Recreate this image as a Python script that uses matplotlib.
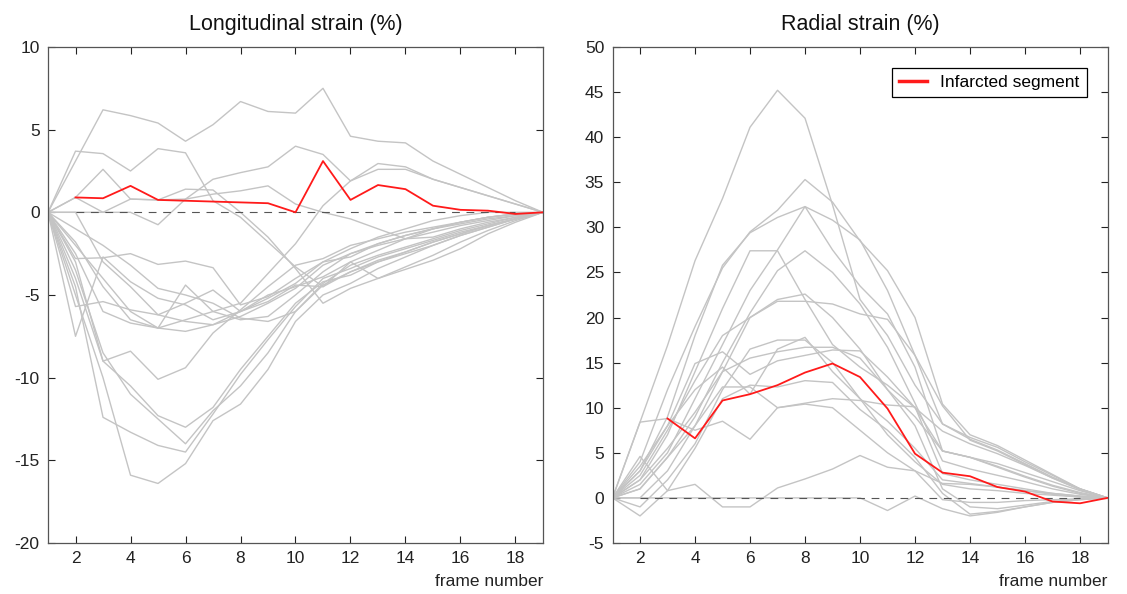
import numpy as np
from matplotlib import pyplot as plt

plt.rcParams['font.family'] = ['Liberation Sans', 'DejaVu Sans']
plt.rcParams['axes.unicode_minus'] = False

frames = np.arange(1, 20)

# longitudinal strain (%), one row per segment
long_gray = [
    [0, 3.1, 6.2, 5.85, 5.4, 4.3, 5.3, 6.7, 6.1, 6.0, 7.5, 4.6, 4.3, 4.2, 3.1, 2.3, 1.5, 0.7, 0],
    [0, 3.7, 3.55, 2.5, 3.85, 3.6, 0.7, -0.3, -1.8, -3.3, -4.5, -3.6, -3.0, -2.4, -1.8, -1.3, -0.8, -0.4, 0],
    [0, 0.9, 2.6, 0.8, 0.75, 1.4, 1.35, 0.0, -1.5, -3.4, -5.5, -4.6, -4.0, -3.3, -2.6, -1.8, -1.1, -0.5, 0],
    [0, 0.9, 0.0, 0.0, -0.75, 0.8, 2.0, 2.4, 2.75, 4.0, 3.5, 1.9, 2.95, 2.75, 2.0, 1.5, 1.0, 0.5, 0],
    [0, 0.0, 0.0, 0.8, 0.75, 0.8, 1.1, 1.3, 1.6, 0.5, 0.0, -0.4, -1.0, -1.6, -1.5, -1.0, -0.6, -0.3, 0],
    [0, -2.0, -4.0, -6.0, -7.0, -6.5, -6.0, -5.5, -3.7, -1.9, 0.4, 1.9, 2.6, 2.6, 2.0, 1.5, 1.0, 0.5, 0],
    [0, -2.8, -2.75, -2.5, -3.15, -2.95, -3.35, -5.6, -5.1, -4.0, -3.0, -2.2, -1.5, -1.0, -0.5, -0.2, 0.0, 0.0, 0],
    [0, -5.7, -5.4, -5.9, -6.2, -5.5, -4.7, -6.0, -5.2, -4.3, -3.0, -2.7, -1.9, -1.4, -1.0, -0.7, -0.4, -0.2, 0],
    [0, -7.5, -2.7, -4.2, -5.2, -5.6, -6.5, -6.0, -5.0, -4.5, -3.9, -3.0, -2.3, -1.6, -1.0, -0.6, -0.3, -0.1, 0],
    [0, -1.8, -4.5, -6.5, -7.0, -4.4, -6.0, -6.5, -6.3, -5.0, -3.6, -2.5, -1.9, -1.4, -1.0, -0.6, -0.3, -0.1, 0],
    [0, -2.5, -6.0, -6.7, -7.0, -7.2, -6.8, -6.3, -5.5, -4.6, -3.2, -2.5, -2.0, -1.6, -1.2, -0.8, -0.5, -0.2, 0],
    [0, -3.0, -9.0, -8.4, -10.1, -9.4, -7.3, -5.9, -4.5, -3.2, -2.8, -2.0, -1.6, -1.2, -0.9, -0.6, -0.3, -0.1, 0],
    [0, -4.0, -9.0, -10.5, -12.3, -13.0, -11.8, -9.5, -7.5, -5.5, -4.2, -3.8, -3.0, -2.5, -2.0, -1.4, -0.9, -0.4, 0],
    [0, -4.5, -12.4, -13.3, -14.1, -14.5, -12.2, -9.8, -7.7, -5.7, -4.0, -3.4, -2.7, -2.2, -1.7, -1.2, -0.8, -0.4, 0],
    [0, -5.0, -10.0, -15.9, -16.4, -15.2, -12.6, -11.6, -9.5, -6.6, -5.0, -4.3, -3.4, -2.7, -2.0, -1.4, -0.9, -0.4, 0],
    [0, -3.5, -8.5, -11.0, -12.5, -14.0, -12.0, -10.5, -8.5, -6.0, -4.4, -3.6, -2.9, -2.4, -1.8, -1.3, -0.8, -0.4, 0],
    [0, 0.0, -3.0, -4.5, -6.2, -6.6, -6.8, -6.0, -5.4, -4.4, -4.5, -3.0, -4.0, -3.45, -2.9, -2.2, -1.3, -0.6, 0],
    [0, -1.0, -2.0, -3.2, -4.6, -5.0, -5.5, -6.4, -6.6, -6.0, -4.3, -3.2, -2.6, -2.1, -1.6, -1.1, -0.7, -0.3, 0],
]
long_red = [np.nan, 0.9, 0.85, 1.6, 0.75, 0.7, 0.65, 0.6, 0.55, 0.0, 3.1, 0.75, 1.65, 1.4, 0.4, 0.15, 0.1, -0.1, 0]

# radial strain (%)
rad_gray = [
    [0, 8.4, 16.9, 26.3, 33.2, 41.1, 45.2, 42.1, 32.5, 22.0, 18.0, 12.5, 8.2, 6.7, 5.6, 4.0, 2.5, 1.0, 0],
    [0, 4.0, 12.0, 19.0, 25.5, 29.5, 31.9, 35.3, 32.8, 28.5, 25.2, 20.0, 10.4, 7.0, 5.8, 4.2, 2.6, 1.0, 0],
    [0, 3.0, 9.0, 18.0, 25.8, 29.4, 31.1, 32.3, 30.8, 28.6, 23.0, 15.8, 8.2, 6.5, 5.3, 3.8, 2.3, 1.0, 0],
    [0, 2.0, 7.0, 14.0, 21.0, 27.4, 27.4, 22.0, 17.0, 14.5, 12.5, 10.0, 7.4, 6.0, 4.9, 3.6, 2.2, 1.0, 0],
    [0, 1.5, 5.0, 11.0, 17.0, 23.0, 27.5, 32.3, 27.5, 23.5, 20.4, 14.5, 5.2, 4.5, 3.8, 2.8, 1.8, 0.8, 0],
    [0, 1.0, 4.5, 9.0, 15.0, 20.5, 25.2, 27.4, 25.0, 21.5, 16.7, 10.5, 4.1, 3.2, 2.5, 1.8, 1.0, 0.4, 0],
    [0, 2.5, 7.5, 13.0, 18.0, 20.0, 21.8, 21.8, 21.5, 20.4, 19.8, 15.8, 10.2, 6.4, 5.2, 3.7, 2.2, 0.9, 0],
    [0, 3.5, 8.0, 14.9, 16.2, 13.7, 15.2, 15.8, 16.4, 16.3, 13.4, 10.0, 5.2, 4.5, 3.4, 2.3, 1.3, 0.5, 0],
    [0, 8.4, 8.8, 7.5, 8.5, 6.5, 10.0, 10.4, 10.0, 7.5, 5.0, 3.0, 1.6, 1.5, 1.2, 0.8, 0.4, 0.1, 0],
    [0, 4.6, 0.8, 1.5, -1.0, -1.0, 1.1, 2.1, 3.2, 4.7, 3.4, 3.0, -0.2, -0.5, -0.5, -0.3, -0.2, -0.1, 0],
    [0, 0, 0, 0, 0, 0, 0, 0, 0, 0, -1.4, 0.2, -1.2, -2.0, -1.6, -1.0, -0.5, -0.2, 0],
    [0, -1.0, 2.0, 6.0, 12.0, 16.5, 17.5, 17.5, 15.0, 11.0, 7.0, 4.0, 1.5, 1.0, 0.8, 0.5, 0.3, 0.1, 0],
    [0, -2.0, 0.8, 5.5, 11.0, 12.5, 12.3, 13.0, 12.8, 9.8, 7.5, 4.5, 0.5, -1.8, -1.5, -1.0, -0.5, -0.2, 0],
    [0, 2.0, 5.5, 9.5, 14.0, 15.5, 16.2, 16.7, 16.7, 15.5, 12.0, 9.0, 5.2, 4.5, 3.5, 2.4, 1.4, 0.6, 0],
    [0, 1.0, 4.5, 8.0, 12.3, 12.3, 10.0, 10.5, 11.0, 10.8, 10.3, 10.1, 2.7, 2.0, 1.5, 1.0, 0.5, 0.2, 0],
    [0, 0.0, 3.0, 8.0, 14.0, 20.0, 22.0, 22.6, 20.0, 16.5, 12.0, 8.0, 1.0, -1.0, -1.2, -0.8, -0.4, -0.1, 0],
    [0, 3.0, 8.0, 12.0, 14.5, 11.5, 16.5, 17.8, 14.0, 11.0, 8.5, 5.5, 2.0, 1.6, 1.2, 0.8, 0.5, 0.2, 0],
]
rad_red = [np.nan, np.nan, 8.8, 6.6, 10.8, 11.5, 12.5, 13.9, 14.9, 13.4, 9.9, 4.9, 2.8, 2.4, 1.2, 0.7, -0.4, -0.6, 0]

gray = '#c4c4c4'
red = '#ff1a1a'

fig = plt.figure(figsize=(11.27, 5.94), dpi=100)
ax1 = fig.add_axes([0.0426, 0.0859, 0.4392, 0.8350])
ax2 = fig.add_axes([0.5435, 0.0859, 0.4392, 0.8350])

def draw(ax, gray_rows, red_row, ylim, yticks, title):
    for row in gray_rows:
        ax.plot(frames, row, color=gray, lw=1.0, zorder=2)
    ax.plot([2, 18], [0, 0], color='#555555', lw=0.8, ls=(0, (7, 6)), zorder=3)
    line, = ax.plot(frames, red_row, color=red, lw=1.3, zorder=4)
    ax.set_xlim(1, 19)
    ax.set_ylim(*ylim)
    ax.set_xticks(np.arange(2, 19, 2))
    ax.set_yticks(yticks)
    ax.tick_params(direction='in', top=True, right=True, length=5, width=0.8,
                   labelsize=12.5, colors='#222222', pad=6)
    for s in ax.spines.values():
        s.set_color('#555555')
        s.set_linewidth(0.9)
    ax.set_title(title, fontsize=15.5, pad=12, color='#111111')
    ax.text(1.0, -0.062, 'frame number', transform=ax.transAxes, ha='right', va='top',
            fontsize=12.5, color='#222222')
    return line

draw(ax1, long_gray, long_red, (-20, 10), np.arange(-20, 11, 5), 'Longitudinal strain (%)')
red_line = draw(ax2, rad_gray, rad_red, (-5, 50), np.arange(-5, 51, 5), 'Radial strain (%)')
leg = ax2.legend([red_line], ['Infarcted segment'], loc='upper right', fontsize=12.5,
                 fancybox=False, framealpha=1, edgecolor='black', borderaxespad=1.2,
                 handlelength=1.6)
leg.get_frame().set_linewidth(0.9)
for lh in leg.get_lines():
    lh.set_linewidth(2.5)

fig.savefig('out.png', dpi=100)
